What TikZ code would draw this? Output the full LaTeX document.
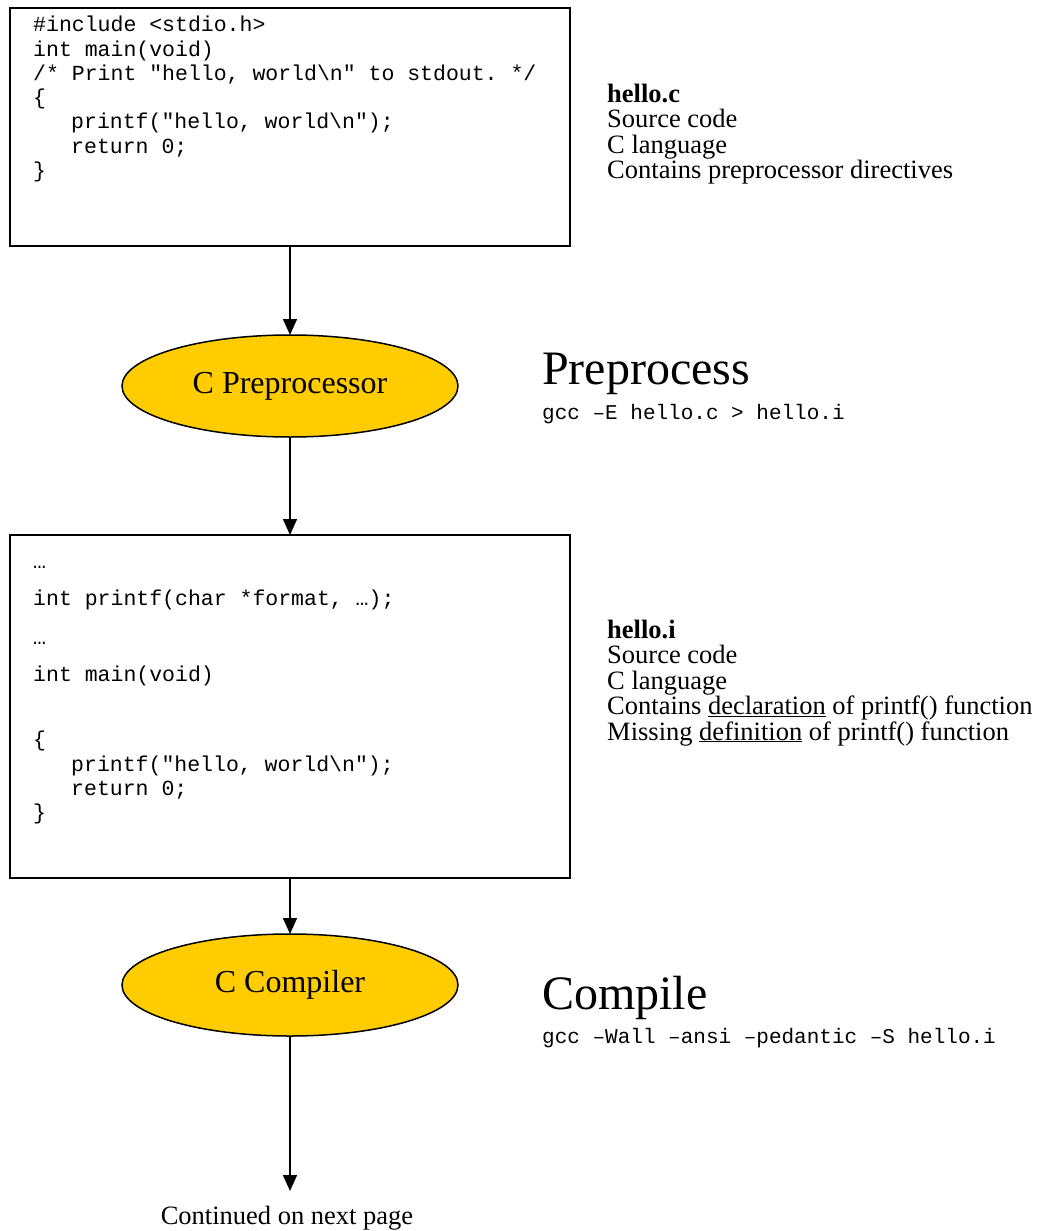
\documentclass[tikz,border=0pt]{standalone}
\usepackage{fontspec}
\setmainfont{Liberation Serif}
\setmonofont{Liberation Mono}
\usetikzlibrary{arrows.meta,shapes.geometric}
\definecolor{procfill}{HTML}{FFCC00}
\tikzset{
  codebox/.style={draw=black,line width=2pt,outer sep=0pt,inner sep=0pt,anchor=north west},
  code/.style={anchor=base west,inner sep=0pt,font=\fontsize{21.5}{24}\selectfont\ttfamily},
  cmd/.style={anchor=base west,inner sep=0pt,font=\fontsize{21}{24}\selectfont\ttfamily},
  note/.style={anchor=base west,inner sep=0pt,font=\fontsize{26.5}{28}\selectfont},
  heading/.style={anchor=base west,inner sep=0pt,font=\fontsize{48}{52}\selectfont},
  proc/.style={ellipse,draw=black,line width=1.5pt,fill=procfill,outer sep=0pt,minimum width=336pt,minimum height=102pt,inner sep=0pt,font=\fontsize{32}{36}\selectfont},
  flow/.style={line width=1.5pt,-{Triangle[length=16pt,width=14pt]}}
}
\begin{document}
\begin{tikzpicture}[x=1pt,y=-1pt]
\useasboundingbox (0,0) rectangle (1050,1231);
% box 1
\node[codebox,minimum width=560pt,minimum height=238pt] (src) at (10,8) {};
\node[code] (s1) at (33,32) {\#include <stdio.h>};
\node[code] (s2) at (33,56.2) {int main(void)};
\node[code] (s3) at (33,80.4) {/* Print "hello, world\textbackslash n" to stdout. */};
\node[code] (s4) at (33,104.6) {\{};
\node[code] (s5) at (71,128.8) {printf("hello, world\textbackslash n");};
\node[code] (s6) at (71,153) {return 0;};
\node[code] (s7) at (33,177.2) {\}};
% notes 1
\node[note] (n1) at (607,102) {\textbf{hello.c}};
\node[note] (n2) at (607,127.5) {Source code};
\node[note] (n3) at (607,153) {C language};
\node[note] (n4) at (607,178.5) {Contains preprocessor directives};
% preprocessor
\node[proc] (pre) at (290,386) {C Preprocessor};
\node[heading] (h1) at (542,384) {Preprocess};
\node[cmd] (g1) at (542,419) {gcc –E hello.c > hello.i};
% box 2
\node[codebox,minimum width=560pt,minimum height=343pt] (pp) at (10,535) {};
\node[code] (p1) at (33,568) {…};
\node[code] (p2) at (33,605) {int printf(char *format, …);};
\node[code] (p3) at (33,644) {…};
\node[code] (p4) at (33,681) {int main(void)};
\node[code] (p5) at (33,746) {\{};
\node[code] (p6) at (71,771) {printf("hello, world\textbackslash n");};
\node[code] (p7) at (71,795) {return 0;};
\node[code] (p8) at (33,819) {\}};
% notes 2
\node[note] (m1) at (607,638) {\textbf{hello.i}};
\node[note] (m2) at (607,663.5) {Source code};
\node[note] (m3) at (607,689) {C language};
\node[note] (m4) at (607,714.5) {Contains \underline{declaration} of printf() function};
\node[note] (m5) at (607,740) {Missing \underline{definition} of printf() function};
% compiler
\node[proc] (cc) at (290,985) {C Compiler};
\node[heading] (h2) at (542,1009) {Compile};
\node[cmd] (g2) at (542,1043) {gcc –Wall –ansi –pedantic –S hello.i};
% continuation
\coordinate (cont) at (290,1191);
\node[anchor=base,inner sep=0pt,font=\fontsize{26.5}{28}\selectfont] (next) at (287,1224) {Continued on next page};
% connectors
\draw[flow] (src.south) -- (pre.north);
\draw[flow] (pre.south) -- (pp.north);
\draw[flow] (pp.south) -- (cc.north);
\draw[flow] (cc.south) -- (cont);
\end{tikzpicture}
\end{document}
